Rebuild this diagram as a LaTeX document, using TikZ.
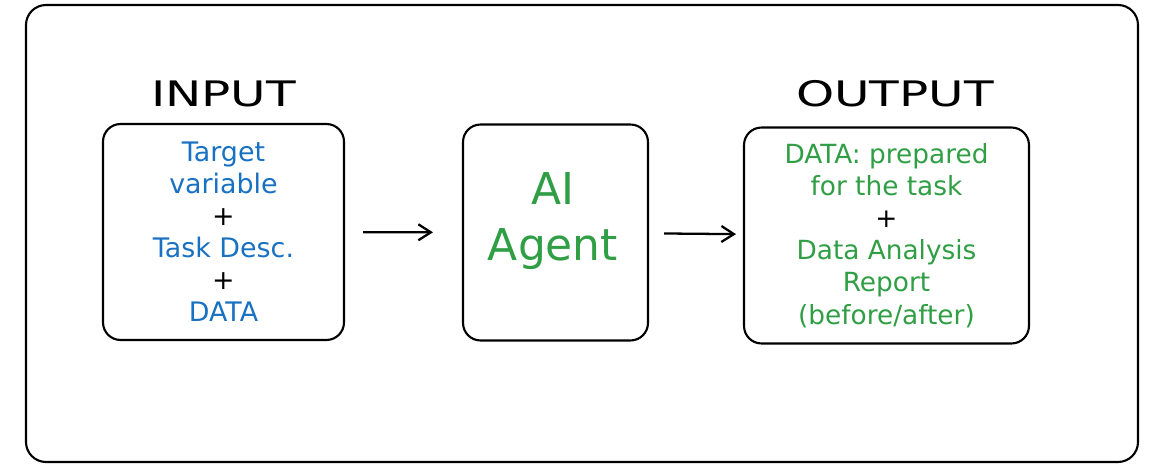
\documentclass[tikz,border=0pt]{standalone}
\usepackage{fontspec}
\usepackage{tikz}
\usetikzlibrary{arrows.meta, positioning}
\newfontfamily\handfont{DejaVu Sans}
\newfontfamily\titlefont[FakeStretch=1.38]{DejaVu Sans}
\definecolor{inblue}{HTML}{1971C2}
\definecolor{outgreen}{HTML}{2F9E44}

\begin{document}
\begin{tikzpicture}[x=0.02cm,y=-0.02cm,
  box/.style={draw,line width=1.2pt,rounded corners=0.35cm,minimum height=4.32cm,align=center},
  title/.style={anchor=base,font=\titlefont\fontsize{20}{24}\selectfont},
  flow/.style={-{Straight Barb[length=2.5mm,width=3.2mm]},line width=1.3pt}]
\useasboundingbox (0,0) rectangle (1170,465);
\draw[line width=1.2pt,rounded corners=0.4cm] (26,5) rectangle (1138,462);
\node[box,minimum width=4.82cm,text=inblue,font=\handfont\fontsize{15.3}{18.2}\selectfont] (inbox) at (223.5,232)
  {Target\\variable\\\textcolor{black}{+}\\Task Desc.\\\textcolor{black}{+}\\DATA};
\node[box,minimum width=3.7cm] (agent) at (555.5,232.5) {};
\node[text=outgreen,align=center,font=\handfont\fontsize{25}{32}\selectfont] (agentlabel) at (553,221) {AI\\Agent};
\node[box,minimum width=5.7cm,text=outgreen,font=\handfont\fontsize{15}{18.3}\selectfont] (outbox) at (886.5,235.5)
  {DATA: prepared\\for the task\\\textcolor{black}{+}\\Data Analysis\\Report\\(before/after)};
\node[title] (intitle) at (223.5,107) {INPUT};
\node[title] (outtitle) at (895,107) {OUTPUT};
\draw[flow,shorten <=0.36cm,shorten >=0.58cm] (inbox) -- (agent);
\draw[flow,shorten <=0.3cm,shorten >=0.14cm] (agent) -- (outbox);
\end{tikzpicture}
\end{document}
